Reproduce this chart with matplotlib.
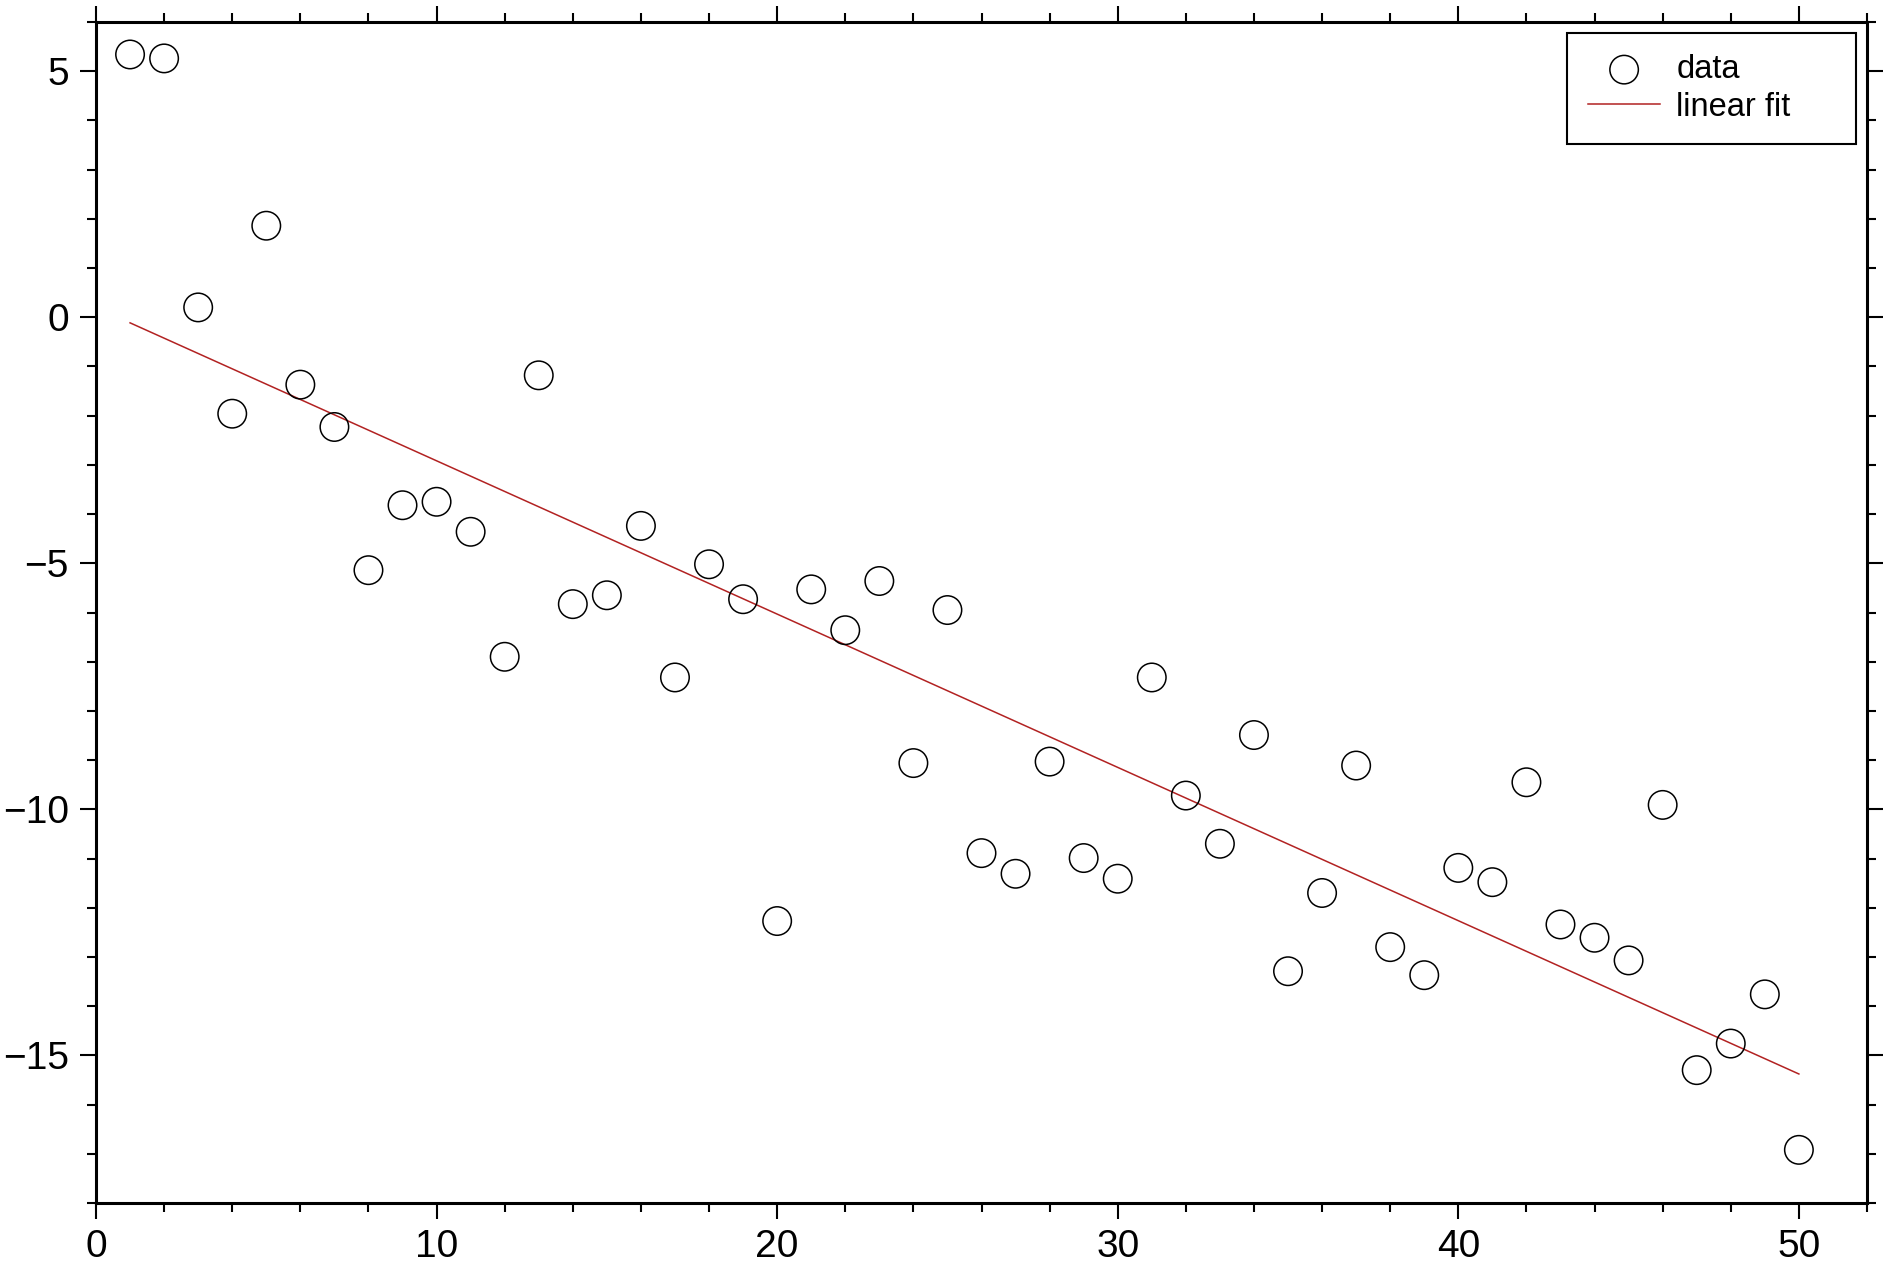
import numpy as np
import matplotlib
matplotlib.use("Agg")
import matplotlib.pyplot as plt
from matplotlib.ticker import MultipleLocator

x = np.arange(1, 51)
y = np.array([5.34, 5.26, 0.20, -1.96, 1.86, -1.37, -2.23, -5.14, -3.82, -3.75,
              -4.36, -6.90, -1.18, -5.83, -5.65, -4.24, -7.32, -5.02, -5.73, -12.27,
              -5.53, -6.36, -5.36, -9.06, -5.95, -10.89, -11.31, -9.03, -10.99, -11.41,
              -7.32, -9.72, -10.70, -8.49, -13.29, -11.70, -9.11, -12.80, -13.37, -11.19,
              -11.48, -9.45, -12.34, -12.61, -13.07, -9.91, -15.30, -14.76, -13.76, -16.92])

coef = np.polyfit(x, y, 1)
fit = np.polyval(coef, x)

plt.rcParams['font.family'] = ['Liberation Sans', 'DejaVu Sans']

fig = plt.figure(figsize=(18.89, 12.63), dpi=100)
ax = fig.add_axes([96/1889, 60/1263, (1867-96)/1889, (1203-22)/1263])

ax.scatter(x, y, s=20.5**2, facecolors='none', edgecolors='black', linewidths=1.1, label='data', zorder=3)
ax.plot(x, fit, color='#b22222', lw=1.1, label='linear fit', zorder=2)

ax.set_xlim(0, 52)
ax.set_ylim(-18, 6)
ax.xaxis.set_major_locator(MultipleLocator(10))
ax.xaxis.set_minor_locator(MultipleLocator(2))
ax.yaxis.set_major_locator(MultipleLocator(5))
ax.yaxis.set_minor_locator(MultipleLocator(1))
ax.tick_params(which='both', direction='out', top=True, right=True, width=1.5, labelsize=28, color='black')
ax.tick_params(which='major', length=11.5)
ax.tick_params(axis='y', which='major', pad=8)
ax.tick_params(axis='x', which='major', pad=7)
ax.tick_params(which='minor', length=6.5)
for s in ax.spines.values():
    s.set_linewidth(2.2)

leg = ax.legend(loc='upper right', bbox_to_anchor=(0.8306, 0.8992, 0.9938 - 0.8306, 0.9907 - 0.8992),
                mode='expand', fancybox=False,
                edgecolor='black', framealpha=1, fontsize=23.5, borderaxespad=0,
                handlelength=2.2, handletextpad=0.5, borderpad=0.65, labelspacing=0.2)
leg.get_frame().set_linewidth(1.5)

fig.savefig('out.png', dpi=100)
